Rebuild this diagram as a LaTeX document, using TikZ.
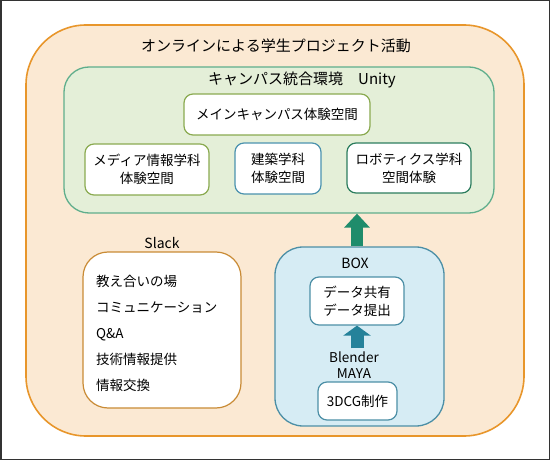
\documentclass[tikz,border=0pt]{standalone}
\usepackage{fontspec}
\newfontfamily\jpfont{Noto Sans CJK JP}
\usetikzlibrary{arrows.meta}

\definecolor{projfill}{HTML}{FBE9D3}
\definecolor{projline}{HTML}{E8962B}
\definecolor{unityfill}{HTML}{E4EFD8}
\definecolor{unityline}{HTML}{5FAE8C}
\definecolor{oliveline}{HTML}{8AAA50}
\definecolor{tealline}{HTML}{4B92AE}
\definecolor{darkgreenline}{HTML}{2C7D5E}
\definecolor{slackline}{HTML}{C98B35}
\definecolor{boxfill}{HTML}{D6ECF4}
\definecolor{boxline}{HTML}{4C8FA6}
\definecolor{greenarrow}{HTML}{1F8C6B}
\definecolor{bluearrow}{HTML}{25829A}
\definecolor{framegray}{HTML}{333333}

\begin{document}
\begin{tikzpicture}[x=1pt,y=-1pt, % pixel grid, y downwards
  area/.style={draw,rounded corners=#1,line width=1.3pt,inner sep=0pt},
  room/.style={draw,fill=white,rounded corners=9pt,line width=1.2pt,inner sep=0pt,align=center,
    font=\jpfont\fontsize{13.5pt}{18pt}\selectfont},
  caption/.style={inner sep=0pt,align=center,font=\jpfont\fontsize{#1}{17pt}\selectfont},
  caption/.default=13.5pt,
  fatarrow/.style={-{Triangle[width=25pt,length=14pt]},line width=12pt}]

\useasboundingbox (0,0) rectangle (550,460);
\draw[framegray,line width=1.5pt] (0.75,0.75) rectangle (549.25,459.25);

% whole project
\node[area=60pt,draw=projline,fill=projfill,line width=1.6pt,minimum width=498pt,minimum height=411pt] (project) at (275,230.5) {};
\node[caption=15pt] (projecttitle) at (276,46) {オンラインによる学生プロジェクト活動};

% unity
\node[area=25pt,draw=unityline,fill=unityfill,minimum width=430pt,minimum height=146pt] (unity) at (279,140) {};
\node[caption=15pt] (unitytitle) at (302,80) {キャンパス統合環境　Unity};
\node[room,draw=oliveline,minimum width=186pt,minimum height=41pt] (maincampus) at (277,114.5) {メインキャンパス体験空間};
\node[room,draw=oliveline,minimum width=124pt,minimum height=51pt] (media) at (147,169.5) {メディア情報学科\\体験空間};
\node[room,draw=tealline,minimum width=86pt,minimum height=51pt] (architecture) at (278,168.5) {建築学科\\体験空間};
\node[room,draw=darkgreenline,minimum width=124pt,minimum height=50pt] (robotics) at (409,168) {ロボティクス学科\\空間体験};

% slack
\node[caption=14pt] (slacktitle) at (162,243) {Slack};
\node[area=25pt,draw=slackline,fill=white,line width=1.2pt,minimum width=158pt,minimum height=156pt] (slack) at (162,330) {};
\foreach \txt [count=\i] in {教え合いの場,コミュニケーション,Q\&A,技術情報提供,情報交換} {
\node[caption,anchor=west,text height=11.5pt,text depth=1.5pt] (slack-\i) at (96,254.8+26.2*\i) {\txt};
}

% box
\node[area=28pt,draw=boxline,fill=boxfill,minimum width=169pt,minimum height=179pt] (boxarea) at (359.5,336.5) {};
\node[caption=14pt] (boxtitle) at (355,263) {BOX};
\node[room,draw=boxline,minimum width=94pt,minimum height=48pt] (datashare) at (357,301) {データ共有\\データ提出};
\node[caption,inner ysep=3pt,font=\jpfont\fontsize{13.5pt}{16pt}\selectfont] (tools) at (354,365) {Blender\\MAYA};
\node[room,draw=boxline,minimum width=79pt,minimum height=38pt] (cgwork) at (357.5,401) {3DCG制作};

% arrows
\draw[fatarrow,greenarrow] (datashare.north |- boxarea.north) -- (datashare.north |- unity.south);
\draw[fatarrow,bluearrow,-{Triangle[width=27pt,length=10pt]},line width=13pt] (datashare.south |- tools.north) -- (datashare.south);
\end{tikzpicture}
\end{document}
